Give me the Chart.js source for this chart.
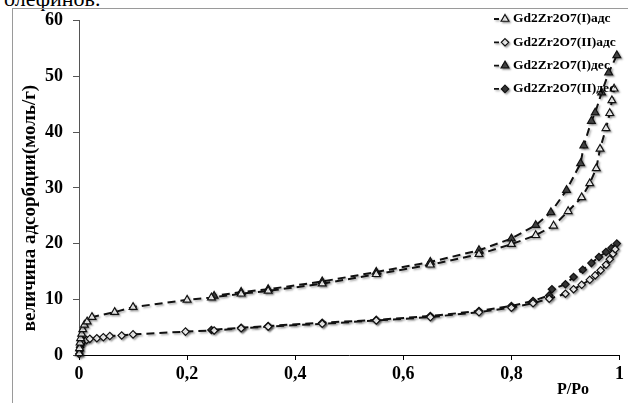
<!DOCTYPE html>
<html>
<head>
<meta charset="utf-8">
<script src="https://cdn.jsdelivr.net/npm/chart.js@4.4.1/dist/chart.umd.min.js"></script>
<style>
    html, body { margin: 0; padding: 0; background: #fff; }
    #wrap { position: relative; width: 628px; height: 403px; overflow: hidden; }
    #above { position: absolute; left: 4px; top: -12px; font: 22px/22px 'Liberation Serif', 'Times New Roman', serif; color: #000; }
    #frame { position: absolute; left: 12px; top: 8px; width: 800px; height: 600px; border-left: 1px solid #9a9a9a; border-top: 1px solid #9a9a9a; }
    canvas { position: absolute; left: 0; top: 0; }
</style>
</head>
<body>
<div id="wrap">
    <div id="above">олефинов.</div>
    <div id="frame"></div>
    <canvas id="isoChart" width="628" height="403"></canvas>
</div>
<script>
// P/Po и величина адсорбции
const labels = ['Gd2Zr2O7(I)адс', 'Gd2Zr2O7(II)адс', 'Gd2Zr2O7(I)дес', 'Gd2Zr2O7(II)дес'];

const adsI_P = [0.0005, 0.001, 0.002, 0.003, 0.005, 0.007, 0.01, 0.015, 0.024, 0.066, 0.1, 0.2, 0.245, 0.3, 0.35, 0.45, 0.55, 0.65, 0.74, 0.8, 0.845, 0.878, 0.905, 0.93, 0.945, 0.957, 0.964, 0.975, 0.982, 0.986, 0.99];
const adsI_V = [0.3, 1.2, 2.2, 3.0, 3.8, 4.6, 5.4, 6.0, 6.8, 7.7, 8.6, 9.9, 10.3, 11.0, 11.5, 12.8, 14.5, 16.2, 18.1, 19.9, 21.5, 23.2, 25.8, 28.3, 30.8, 33.5, 37.0, 40.7, 43.4, 45.7, 47.8];

const adsII_P = [0.0005, 0.001, 0.002, 0.003, 0.005, 0.008, 0.014, 0.02, 0.033, 0.045, 0.057, 0.079, 0.1, 0.197, 0.25, 0.3, 0.35, 0.45, 0.55, 0.65, 0.74, 0.8, 0.84, 0.87, 0.9, 0.915, 0.93, 0.945, 0.955, 0.965, 0.975, 0.982, 0.988, 0.992];
const adsII_V = [0.2, 0.8, 1.4, 1.9, 2.3, 2.6, 2.7, 2.9, 3.0, 3.2, 3.4, 3.5, 3.7, 4.2, 4.4, 4.8, 5.1, 5.6, 6.2, 6.8, 7.7, 8.5, 9.3, 10.1, 11.0, 11.8, 12.6, 13.5, 14.3, 15.2, 16.2, 17.2, 18.2, 19.0];

const desI_P = [0.995, 0.98, 0.967, 0.955, 0.948, 0.934, 0.928, 0.902, 0.873, 0.845, 0.8, 0.74, 0.65, 0.55, 0.45, 0.35, 0.3, 0.25];
const desI_V = [53.8, 50.7, 47.1, 43.5, 42.0, 37.6, 34.4, 29.6, 25.6, 23.3, 20.9, 18.8, 16.7, 14.9, 13.2, 11.8, 11.3, 10.6];

const desII_P = [0.995, 0.985, 0.975, 0.962, 0.948, 0.932, 0.915, 0.9, 0.875, 0.87, 0.84, 0.8, 0.74, 0.65, 0.55, 0.45, 0.35, 0.3, 0.245];
const desII_V = [20.0, 19.2, 18.5, 17.6, 16.5, 15.3, 14.0, 12.7, 11.8, 10.7, 9.7, 8.8, 7.9, 7.0, 6.3, 5.8, 5.2, 4.9, 4.5];

const xTicks = [0, 0.2, 0.4, 0.6, 0.8, 1];
const yTicks = [0, 10, 20, 30, 40, 50, 60];

const serif = "'Liberation Serif', 'Times New Roman', serif";

function toPoints(xs, ys) {
    return xs.map((x, i) => ({ x: x, y: ys[i] }));
}

function series(label, xs, ys, style, fill, radius) {
    return {
        label: label,
        data: toPoints(xs, ys),
        showLine: true,
        borderColor: '#111',
        borderWidth: 2,
        borderDash: [8, 5],
        pointStyle: style,
        pointRadius: radius,
        pointBackgroundColor: fill,
        pointBorderColor: '#111',
        pointBorderWidth: 1.2,
        clip: false
    };
}

function drawMarker(ctx, style, x, y, r, fill) {
    ctx.beginPath();
    if (style === 'triangle') {
        ctx.moveTo(x, y - r);
        ctx.lineTo(x + r * 0.866, y + r * 0.5);
        ctx.lineTo(x - r * 0.866, y + r * 0.5);
    } else {
        ctx.moveTo(x, y - r);
        ctx.lineTo(x + r, y);
        ctx.lineTo(x, y + r);
        ctx.lineTo(x - r, y);
    }
    ctx.closePath();
    ctx.fillStyle = fill;
    ctx.fill();
    ctx.lineWidth = 1.2;
    ctx.strokeStyle = '#111';
    ctx.stroke();
}

// лёгкая тень как в оригинале
const shadowPlugin = {
    id: 'shadow',
    beforeDatasetsDraw(chart) {
        const ctx = chart.ctx;
        ctx.save();
        ctx.shadowColor = 'rgba(0,0,0,0.3)';
        ctx.shadowOffsetX = 1.5;
        ctx.shadowOffsetY = 1.5;
        ctx.shadowBlur = 2;
    },
    afterDatasetsDraw(chart) {
        chart.ctx.restore();
    }
};

const textPlugin = {
    id: 'texts',
    afterDraw(chart) {
        const ctx = chart.ctx;
        ctx.save();
        ctx.fillStyle = '#000';

        ctx.font = 'bold 19px ' + serif;
        ctx.textAlign = 'center';
        ctx.textBaseline = 'middle';
        ctx.save();
        ctx.translate(30, 208);
        ctx.rotate(-Math.PI / 2);
        ctx.fillText('величина адсорбции(моль/г)', 0, 0);
        ctx.restore();

        ctx.font = 'bold 16px ' + serif;
        ctx.fillText('P/Po', 573, 390);

        // легенда
        chart.data.datasets.forEach((ds, i) => {
            const y = 19 + i * 23.3;
            ctx.save();
            ctx.shadowColor = 'rgba(0,0,0,0.3)';
            ctx.shadowOffsetX = 1.5;
            ctx.shadowOffsetY = 1.5;
            ctx.shadowBlur = 2;
            ctx.setLineDash([5, 3]);
            ctx.lineWidth = 1.8;
            ctx.strokeStyle = '#111';
            ctx.beginPath();
            ctx.moveTo(494, y);
            ctx.lineTo(510, y);
            ctx.stroke();
            ctx.setLineDash([]);
            drawMarker(ctx, ds.pointStyle, 505, y, ds.pointRadius, ds.pointBackgroundColor);
            ctx.restore();

            ctx.font = 'bold 13.5px ' + serif;
            ctx.textAlign = 'left';
            ctx.textBaseline = 'middle';
            ctx.fillText(ds.label, 513, y);
        });
        ctx.restore();
    }
};

function fmtTick(value) {
    if (value === 0 || value === 1) return String(value);
    return value.toFixed(1).replace('.', ',');
}

const ctx = document.getElementById('isoChart').getContext('2d');
new Chart(ctx, {
    type: 'scatter',
    data: {
        datasets: [
            series(labels[0], adsI_P, adsI_V, 'triangle', '#ffffff', 4.5),
            series(labels[1], adsII_P, adsII_V, 'rectRot', '#ffffff', 3.7),
            series(labels[2], desI_P, desI_V, 'triangle', '#4a4a4a', 4.5),
            series(labels[3], desII_P, desII_V, 'rectRot', '#3a3a3a', 3.7)
        ]
    },
    options: {
        responsive: false,
        animation: false,
        layout: { padding: { top: 20, right: 7, left: 0, bottom: 0 } },
        plugins: {
            legend: { display: false },
            tooltip: { enabled: false }
        },
        scales: {
            x: {
                type: 'linear',
                min: 0,
                max: 1,
                afterFit: scale => { scale.height = 48; },
                afterBuildTicks: scale => { scale.ticks = xTicks.map(v => ({ value: v })); },
                ticks: {
                    callback: fmtTick,
                    font: { family: serif, size: 18, weight: 'bold' },
                    color: '#000',
                    padding: 4,
                    maxRotation: 0
                },
                grid: { drawOnChartArea: false, tickLength: 5, color: '#000' },
                border: { color: '#000', width: 1 }
            },
            y: {
                min: 0,
                max: 60,
                afterFit: scale => { scale.width = 79; },
                afterBuildTicks: scale => { scale.ticks = yTicks.map(v => ({ value: v })); },
                ticks: {
                    font: { family: serif, size: 18, weight: 'bold' },
                    color: '#000',
                    padding: 10
                },
                grid: { drawOnChartArea: false, tickLength: 6, color: '#555' },
                border: { color: '#555', width: 1 }
            }
        }
    },
    plugins: [shadowPlugin, textPlugin]
});
</script>
</body>
</html>
